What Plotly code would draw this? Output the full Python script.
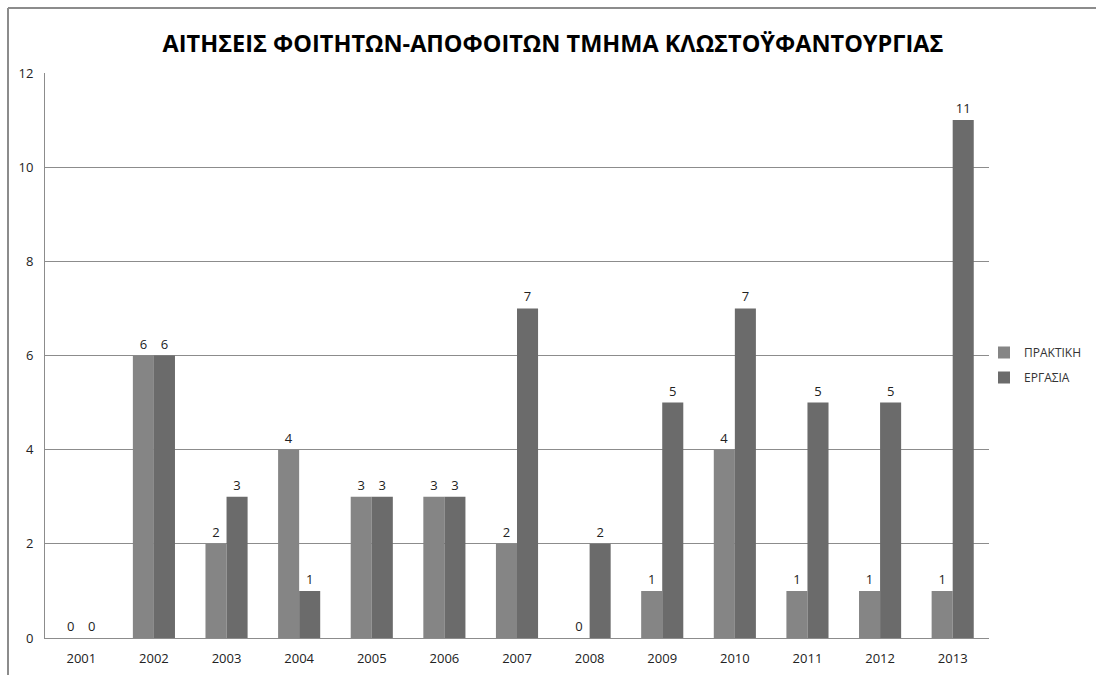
import plotly.graph_objects as go

years = ["2001", "2002", "2003", "2004", "2005", "2006", "2007",
         "2008", "2009", "2010", "2011", "2012", "2013"]
praktiki = [0, 6, 2, 4, 3, 3, 2, 0, 1, 4, 1, 1, 1]
ergasia = [0, 6, 3, 1, 3, 3, 7, 2, 5, 7, 5, 5, 11]

W, H = 1096, 675
ML, MR, MT, MB = 45, 107, 73, 37
PW, PH = W - ML - MR, H - MT - MB

FONT = "Open Sans, Noto Sans, sans-serif"

fig = go.Figure()
fig.add_trace(go.Bar(
    name="ΠΡΑΚΤΙΚΗ", x=years, y=praktiki, marker_color="#858585",
    marker_line_width=0, text=praktiki, textposition="outside",
    textfont=dict(size=13, color="#222222", family=FONT), cliponaxis=False,
    legendgroup="p",
))
fig.add_trace(go.Bar(
    name="ΕΡΓΑΣΙΑ", x=years, y=ergasia, marker_color="#6b6b6b",
    marker_line_width=0, text=ergasia, textposition="outside",
    textfont=dict(size=13, color="#222222", family=FONT), cliponaxis=False,
    legendgroup="e",
))

# chart frame (left and top edges)
fx = (8 - ML) / PW
fy = (H - MB - 8) / PH
fig.add_shape(type="line", xref="paper", yref="paper", x0=fx, x1=fx, y0=fy, y1=-0.2,
              line=dict(color="#8c8c8c", width=2))
fig.add_shape(type="line", xref="paper", yref="paper", x0=fx, x1=1.2, y0=fy, y1=fy,
              line=dict(color="#8c8c8c", width=2))

fig.update_layout(
    width=W, height=H,
    margin=dict(l=ML, r=MR, t=MT, b=MB, autoexpand=False),
    paper_bgcolor="white", plot_bgcolor="white",
    barmode="group", bargap=0.42, bargroupgap=0,
    title=dict(text="<b>ΑΙΤΗΣΕΙΣ ΦΟΙΤΗΤΩΝ-ΑΠΟΦΟΙΤΩΝ ΤΜΗΜΑ ΚΛΩΣΤΟΫΦΑΝΤΟΥΡΓΙΑΣ</b>",
               x=553 / W, xanchor="center", y=1 - 44 / H, yanchor="middle",
               font=dict(size=23.5, color="#000000", family=FONT)),
    font=dict(family=FONT, size=12, color="#222222"),
    legend=dict(x=(984 - ML) / PW, xanchor="left", y=(H - MB - 365) / PH, yanchor="middle",
                font=dict(size=12, color="#333333"), itemwidth=30, tracegroupgap=6,
                bgcolor="rgba(0,0,0,0)"),
    showlegend=True,
)
fig.update_yaxes(range=[0, 12], dtick=2, showgrid=True, gridcolor="#8c8c8c", gridwidth=1,
                 showline=True, linecolor="#8c8c8c", linewidth=1, zeroline=False,
                 ticks="", tickfont=dict(size=13, color="#222222"), ticklabelstandoff=8)
fig.update_xaxes(showline=True, linecolor="#8c8c8c", linewidth=1, ticks="",
                 tickfont=dict(size=13, color="#222222"), ticklabelstandoff=8)

fig.write_html("out.html")
